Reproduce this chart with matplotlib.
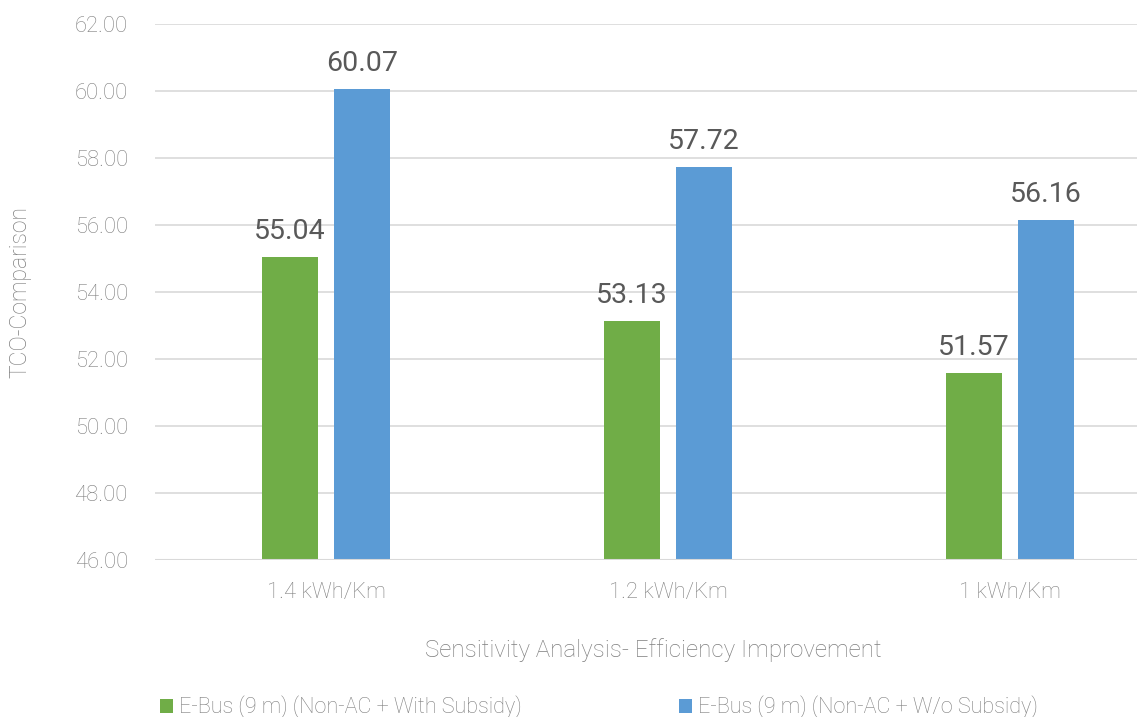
import numpy as np
import matplotlib.pyplot as plt

plt.rcParams['font.family'] = ['Roboto', 'DejaVu Sans']

# TCO comparison values for each efficiency case
categories = ["1.4 kWh/Km", "1.2 kWh/Km", "1 kWh/Km"]
with_subsidy = [55.04, 53.13, 51.57]
without_subsidy = [60.07, 57.72, 56.16]
series_names = ["E-Bus (9 m) (Non-AC + With Subsidy)",
                "E-Bus (9 m) (Non-AC + W/o Subsidy)"]
yticks = [46, 48, 50, 52, 54, 56, 58, 60, 62]

green = "#70AD47"
blue = "#5B9BD5"
grey = "#7f7f7f"

fig = plt.figure(figsize=(11.37, 7.17), dpi=100)
# axes runs past the right edge of the figure, as in the exported chart
ax = fig.add_axes([155 / 1137, 157 / 717, 1026 / 1137, 536 / 717])

x = np.arange(len(categories))
w = 0.164
off = 0.105
b1 = ax.bar(x - off, with_subsidy, w, color=green, label=series_names[0], zorder=3)
b2 = ax.bar(x + off, without_subsidy, w, color=blue, label=series_names[1], zorder=3)

for bars, vals in ((b1, with_subsidy), (b2, without_subsidy)):
    for r, v in zip(bars, vals):
        ax.text(r.get_x() + r.get_width() / 2, v + 0.36, f"{v:.2f}",
                ha="center", va="bottom", fontsize=20.5, color="#595959")

ax.set_xlim(-0.5, 2.5)
ax.set_ylim(46, 62)
ax.set_yticks(yticks)
ax.set_yticklabels([f"{t:.2f}" for t in yticks], fontweight="light")
ax.set_xticks(x)
ax.set_xticklabels(categories, fontweight="light")
ax.tick_params(axis="both", length=0, labelsize=15.8, colors=grey)
ax.tick_params(axis="y", pad=19.5)
ax.tick_params(axis="x", pad=16)

ax.grid(axis="y", color="#d9d9d9", linewidth=1.2, zorder=0)
for s in ax.spines.values():
    s.set_visible(False)
ax.axhline(46, color="#d9d9d9", linewidth=1.5, zorder=4)

fig.text(20 / 1137, 1 - 292 / 717, "TCO-Comparison", rotation=90, ha="center",
         va="center", fontsize=16.5, color=grey, fontweight="light")
fig.text(653 / 1137, 1 - 650 / 717, "Sensitivity Analysis- Efficiency Improvement",
         ha="center", va="center", fontsize=17.4, color=grey, fontweight="light")

leg = fig.legend(handles=[b1, b2], loc="center", ncol=2,
                 bbox_to_anchor=(599 / 1137, 1 - 707 / 717), frameon=False,
                 fontsize=15.6, handlelength=0.6, handleheight=0.6,
                 handletextpad=0.3, columnspacing=7.25)
for t in leg.get_texts():
    t.set_color(grey)
    t.set_fontweight("light")

fig.savefig("out.png", dpi=100)
